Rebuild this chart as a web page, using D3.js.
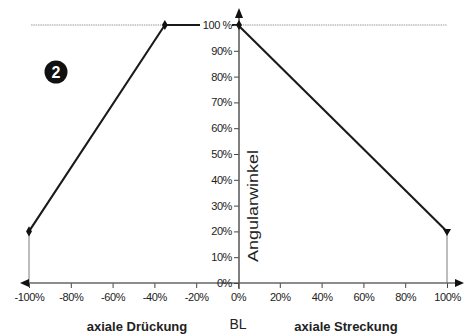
<!DOCTYPE html>
<html><head><meta charset="utf-8">
<script src="https://cdn.jsdelivr.net/npm/d3@7/dist/d3.min.js"></script>
<style>body{margin:0;background:#fff}svg{display:block}text{font-family:"Liberation Sans",Arial,sans-serif}</style>
</head><body><svg id="c" width="469" height="336"></svg>
<script>
const xTicks = [-100,-80,-60,-40,-20,0,20,40,60,80,100];
const yTicks = [0,10,20,30,40,50,60,70,80,90,100];
const druckX = [-100,-35,0];
const druckY = [20,100,100];
const streckX = [0,100];
const streckY = [100,20];
const refLevel = 100;
const labels = {left:"axiale Drückung", mid:"BL", right:"axiale Streckung", yTitle:"Angularwinkel", badge:"2"};

const svg = d3.select("#c");
const x = d3.scaleLinear().domain([-100,100]).range([29,447]);
const y = d3.scaleLinear().domain([0,100]).range([283,25]);

// reference line at 100%
svg.append("line").attr("x1",x(-99)).attr("x2",x(100)).attr("y1",y(refLevel)).attr("y2",y(refLevel))
  .attr("stroke","#9a9a9a").attr("stroke-width",1.2).attr("stroke-dasharray","1.5,0.8");

// vertical drop lines
[[druckX[0],druckY[0]],[streckX[1],streckY[1]]].forEach(([a,b])=>{
  svg.append("line").attr("x1",x(a)).attr("x2",x(a)).attr("y1",y(b)).attr("y2",y(0))
    .attr("stroke","#9a9a9a").attr("stroke-width",1.3);
});

// data lines
const line = d3.line().x(d=>x(d[0])).y(d=>y(d[1]));
const dData = druckX.map((v,i)=>[v,druckY[i]]);
const sData = streckX.map((v,i)=>[v,streckY[i]]);
svg.append("path").datum(dData).attr("d",line).attr("fill","none").attr("stroke","#1a1a1a").attr("stroke-width",2.1).attr("stroke-linejoin","round");
svg.append("path").datum(sData).attr("d",line).attr("fill","none").attr("stroke","#1a1a1a").attr("stroke-width",2.1);

// x axis
const xa = svg.append("g").attr("transform",`translate(0,${y(0)})`)
  .call(d3.axisBottom(x).tickValues(xTicks).tickFormat(d=>d+"%").tickSize(5).tickPadding(5));
xa.select(".domain").remove();
xa.selectAll("line").attr("stroke","#444");
xa.selectAll("text").attr("font-size",11).attr("letter-spacing",-0.4).attr("fill","#222");
svg.append("line").attr("x1",25).attr("x2",458).attr("y1",y(0)).attr("y2",y(0)).attr("stroke","#666").attr("stroke-width",1.3);
svg.append("path").attr("d",`M20,${y(0)} L29,${y(0)-4} L29,${y(0)+4}Z`).attr("fill","#111");
svg.append("path").attr("d",`M464,${y(0)} L455,${y(0)-4} L455,${y(0)+4}Z`).attr("fill","#111");

// y axis
const ya = svg.append("g").attr("transform",`translate(${x(0)+1},0)`)
  .call(d3.axisLeft(y).tickValues(yTicks).tickFormat(d=>d===100?"100 %":d+"%").tickSize(5).tickPadding(2));
ya.select(".domain").remove();
ya.selectAll("line").attr("stroke","#444");
ya.selectAll("text").attr("font-size",11).attr("letter-spacing",-0.4).attr("fill","#222");
ya.selectAll(".tick").filter(d=>d===100).insert("rect","text").attr("x",-39).attr("y",-6).attr("width",32).attr("height",12).attr("fill","#fff");
svg.append("line").attr("x1",x(0)+1).attr("x2",x(0)+1).attr("y1",y(0)+6).attr("y2",14).attr("stroke","#555").attr("stroke-width",1.5);
svg.append("path").attr("d",`M${x(0)+1},8 L${x(0)-3},18 L${x(0)+5},18Z`).attr("fill","#111");

// markers
const diamond = d3.symbol().type(d3.symbolDiamond).size(30);
dData.forEach(p=>{
  svg.append("path").attr("d",diamond).attr("transform",`translate(${x(p[0])+(p[0]===0?1:0)},${y(p[1])})`).attr("fill","#111");
});
const last = sData[sData.length-1];
svg.append("path").attr("d",d3.symbol().type(d3.symbolTriangle).size(28)).attr("transform",`translate(${x(last[0])},${y(last[1])}) rotate(180)`).attr("fill","#111");

// badge
svg.append("circle").attr("cx",56).attr("cy",72).attr("r",11.5).attr("fill","#111");
svg.append("text").attr("x",56).attr("y",78).attr("text-anchor","middle").attr("font-size",16).attr("font-weight","bold").attr("fill","#fff").text(labels.badge);

// titles
svg.append("text").attr("x",137).attr("y",331).attr("text-anchor","middle").attr("font-size",13).attr("font-weight","bold").attr("fill","#222").text(labels.left);
svg.append("text").attr("x",238).attr("y",329).attr("text-anchor","middle").attr("font-size",14).attr("fill","#222").text(labels.mid);
svg.append("text").attr("x",346).attr("y",331).attr("text-anchor","middle").attr("font-size",13).attr("font-weight","bold").attr("fill","#222").text(labels.right);
svg.append("text").attr("transform","translate(258,206) rotate(-90)").attr("text-anchor","middle").attr("font-size",15)
  .attr("textLength",112).attr("lengthAdjust","spacingAndGlyphs").attr("fill","#222").text(labels.yTitle);
</script></body></html>
